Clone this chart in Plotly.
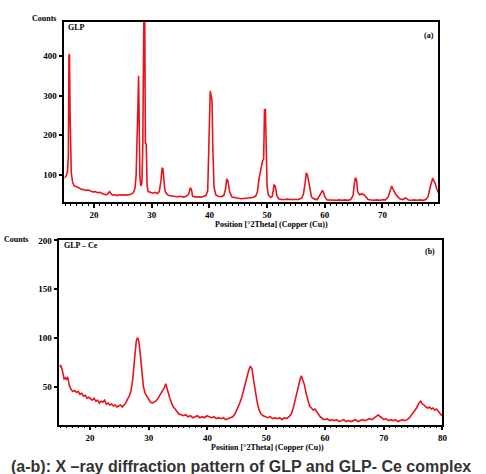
import plotly.graph_objects as go

# ---------------- data: GLP (panel a) ----------------
glp_x = [14.85, 15.0, 15.2, 15.4, 15.55, 15.65, 15.75, 15.85, 15.95, 16.05,
         16.3, 16.6, 17.0, 17.4, 17.8, 18.2, 18.6, 19.0, 19.4, 19.8,
         20.2, 20.6, 21.0, 21.4, 21.8, 22.2, 22.5, 22.7, 22.9, 23.2,
         23.6, 24.0, 24.4, 24.8, 25.2, 25.6, 26.0, 26.4, 26.8, 27.1,
         27.3, 27.45, 27.6, 27.72, 27.85, 27.95, 28.1, 28.3, 28.45, 28.55,
         28.65, 28.78, 28.9, 29.05, 29.2, 29.4, 29.8, 30.2, 30.6, 31.0,
         31.3, 31.6, 31.8, 31.95, 32.1, 32.3, 32.6, 33.0, 33.5, 34.0,
         34.5, 35.0, 35.5, 36.0, 36.4, 36.7, 36.9, 37.1, 37.4, 37.8,
         38.2, 38.6, 39.0, 39.4, 39.7, 39.85, 40.0, 40.15, 40.3, 40.45,
         40.6, 40.8, 41.1, 41.5, 42.0, 42.5, 42.8, 43.0, 43.2, 43.5,
         43.9, 44.4, 45.0, 45.5, 46.0, 46.5, 47.0, 47.5, 48.0, 48.3,
         48.6, 48.9, 49.2, 49.4, 49.55, 49.7, 49.85, 50.0, 50.2, 50.6,
         50.9, 51.2, 51.4, 51.7, 52.0, 52.5, 53.0, 53.5, 54.0, 54.5,
         55.0, 55.5, 56.0, 56.3, 56.6, 56.8, 57.0, 57.3, 57.7, 58.2,
         58.7, 59.1, 59.4, 59.6, 59.8, 60.0, 60.4, 61.0, 61.5, 62.0,
         62.5, 63.0, 63.5, 64.0, 64.5, 64.9, 65.1, 65.3, 65.5, 65.7,
         66.0, 66.4, 66.8, 67.1, 67.5, 68.0, 68.5, 69.0, 69.5, 70.0,
         70.5, 71.0, 71.3, 71.6, 71.9, 72.2, 72.6, 73.0, 73.5, 74.0,
         74.5, 75.0, 75.5, 76.0, 76.5, 77.0, 77.5, 77.9, 78.2, 78.5,
         78.7, 78.9, 79.1, 79.4, 79.7]
glp_y = [92, 95, 98, 108, 150, 400, 405, 250, 110, 106,
         80, 72, 70, 66, 64, 63, 61, 62, 60, 57,
         58, 55, 56, 53, 51, 50, 54, 58, 53, 49,
         50, 48, 50, 49, 50, 49, 50, 51, 55, 66,
         100, 165, 270, 350, 160, 95, 72, 80, 175, 490,
         530, 520, 180, 178, 72, 58, 55, 54, 56, 53,
         58, 85, 118, 115, 88, 60, 52, 48, 47, 46,
         45, 46, 44, 46, 52, 68, 62, 46, 45, 44,
         45, 44, 46, 48, 60, 168, 270, 312, 300, 288,
         165, 70, 50, 46, 45, 48, 65, 90, 85, 58,
         44, 42, 41, 40, 41, 42, 42, 43, 46, 56,
         90, 118, 135, 140, 265, 265, 105, 70, 50, 43,
         46, 74, 72, 48, 40, 38, 38, 39, 38, 38,
         39, 38, 42, 52, 80, 105, 100, 72, 44, 39,
         38, 48, 55, 61, 55, 45, 37, 36, 37, 36,
         37, 36, 37, 36, 38, 48, 75, 93, 88, 58,
         50, 52, 50, 44, 38, 37, 36, 37, 36, 37,
         37, 45, 62, 72, 62, 53, 46, 40, 38, 42,
         37, 36, 37, 36, 37, 36, 38, 45, 65, 82,
         92, 85, 80, 65, 55]

# ---------------- data: GLP-Ce (panel b) ----------------
ce_x = [14.85, 15.0, 15.25, 15.45, 15.6, 15.8, 16.0, 16.2, 16.35, 16.5,
        16.8, 17.1, 17.4, 17.7, 18.0, 18.3, 18.6, 18.9, 19.2, 19.5,
        19.8, 20.1, 20.4, 20.7, 21.0, 21.3, 21.6, 21.9, 22.2, 22.5,
        22.8, 23.1, 23.4, 23.7, 24.0, 24.3, 24.6, 24.9, 25.2, 25.5,
        25.8, 26.1, 26.4, 26.7, 27.0, 27.3, 27.5, 27.7, 27.9, 28.1,
        28.3, 28.5, 28.7, 28.9, 29.1, 29.4, 29.7, 30.0, 30.3, 30.6,
        30.9, 31.2, 31.5, 31.8, 32.1, 32.4, 32.7, 32.9, 33.1, 33.3,
        33.6, 33.9, 34.2, 34.5, 34.8, 35.1, 35.5, 35.9, 36.3, 36.7,
        37.1, 37.5, 37.9, 38.3, 38.7, 39.1, 39.5, 39.9, 40.3, 40.7,
        41.1, 41.5, 41.9, 42.3, 42.7, 43.1, 43.5, 43.9, 44.3, 44.7,
        45.1, 45.5, 45.9, 46.3, 46.7, 47.0, 47.3, 47.6, 47.9, 48.2,
        48.5, 48.8, 49.1, 49.5, 49.9, 50.3, 50.7, 51.1, 51.5, 51.9,
        52.3, 52.7, 53.1, 53.5, 53.9, 54.3, 54.7, 55.1, 55.5, 55.8,
        56.0, 56.2, 56.5, 56.8, 57.1, 57.4, 57.7, 58.0, 58.3, 58.6,
        58.9, 59.2, 59.6, 60.0, 60.4, 60.8, 61.2, 61.6, 62.0, 62.4,
        62.8, 63.2, 63.6, 64.0, 64.4, 64.8, 65.2, 65.6, 66.0, 66.4,
        66.8, 67.2, 67.6, 68.0, 68.4, 68.8, 69.1, 69.4, 69.7, 70.0,
        70.4, 70.8, 71.2, 71.6, 72.0, 72.4, 72.8, 73.2, 73.6, 74.0,
        74.4, 74.8, 75.2, 75.6, 76.0, 76.3, 76.6, 76.9, 77.2, 77.5,
        77.8, 78.1, 78.4, 78.7, 79.0, 79.3, 79.6, 79.9]
ce_y = [70, 72, 68, 60, 58, 59, 57, 60, 55, 51,
        47, 45, 46, 44, 45, 42, 43, 40, 41, 38,
        39, 37, 36, 38, 35, 36, 33, 35, 34, 36,
        32, 33, 31, 32, 30, 31, 29, 30, 31, 29,
        31, 33, 37, 40, 46, 58, 72, 88, 97, 100,
        97, 88, 75, 62, 50, 43, 40, 36, 34, 33,
        34, 35, 37, 40, 43, 46, 49, 53, 48, 44,
        38, 33, 29, 27, 24, 22, 21, 20, 21, 19,
        20, 18, 19, 20, 18, 19, 18, 20, 19, 18,
        19, 17, 18, 17, 18, 16, 17, 18, 19, 22,
        27, 33, 40, 50, 60, 66, 71, 68, 55, 42,
        33, 26, 22, 20, 19, 18, 19, 17, 18, 17,
        18, 16, 18, 17, 19, 22, 30, 40, 52, 58,
        61, 58, 52, 43, 36, 30, 28, 26, 27, 24,
        21, 19, 17, 16, 17, 15, 16, 15, 16, 14,
        15, 16, 14, 15, 14, 15, 16, 14, 15, 16,
        15, 16, 17, 16, 18, 20, 21, 19, 18, 16,
        17, 15, 16, 15, 16, 14, 15, 16, 15, 16,
        18, 21, 24, 28, 33, 35, 32, 31, 29, 28,
        29, 27, 28, 26, 27, 25, 22, 20]

if len(glp_x) != len(glp_y) or len(ce_x) != len(ce_y):
    raise ValueError(f"length mismatch {len(glp_x)} {len(glp_y)} {len(ce_x)} {len(ce_y)}")

a_yticks = [100, 200, 300, 400]
b_yticks = [50, 100, 150, 200]
xticks = [20, 30, 40, 50, 60, 70, 80]

W, H = 486, 474
RED = "#e8141b"
SERIF = "Liberation Serif"

def px(x):
    return x / W

def py(y):
    return 1 - y / H

fig = go.Figure()
fig.add_trace(go.Scatter(x=glp_x, y=glp_y, mode="lines",
                         line=dict(color=RED, width=1.6), xaxis="x", yaxis="y",
                         showlegend=False))
fig.add_trace(go.Scatter(x=ce_x, y=ce_y, mode="lines",
                         line=dict(color=RED, width=1.6), xaxis="x2", yaxis="y2",
                         showlegend=False))

tickfont = dict(family=SERIF, size=9, color="black", weight="bold")
common_x = dict(showline=True, linecolor="black", linewidth=1.5, mirror=True,
                ticks="outside", ticklen=4, tickwidth=1.5, tickcolor="black",
                showgrid=False, zeroline=False, tickvals=xticks, tickfont=tickfont,
                minor=dict(dtick=1, ticks="outside", ticklen=2, tickwidth=1,
                           tickcolor="black", showgrid=False))
common_y = dict(showline=True, linecolor="black", linewidth=1.5, mirror=True,
                ticks="outside", ticklen=4, tickwidth=1.5, tickcolor="black",
                showgrid=False, zeroline=False, tickfont=tickfont)

fig.update_layout(
    width=W, height=H,
    margin=dict(l=0, r=0, t=0, b=0),
    paper_bgcolor="white", plot_bgcolor="white",
    xaxis=dict(domain=[px(65), px(443)], range=[14.85, 79.7], anchor="y", **common_x),
    yaxis=dict(domain=[py(199), py(17)], range=[32, 486], anchor="x",
               tickvals=a_yticks, **common_y),
    xaxis2=dict(domain=[px(60), px(447)], range=[14.8, 80], anchor="y2", **common_x),
    yaxis2=dict(domain=[py(424), py(238)], range=[11, 200], anchor="x2",
                tickvals=b_yticks, **common_y),
)

lab = dict(family=SERIF, size=8, color="black", weight="bold")
annots = [
    dict(text="Counts", x=px(30), y=py(14), xanchor="left", font=lab),
    dict(text="GLP", x=px(67), y=py(23), xanchor="left", font=lab),
    dict(text="(a)", x=px(441), y=py(31), xanchor="right", font=lab),
    dict(text="Position [°2Theta] (Copper (Cu))", x=px(274), y=py(222), xanchor="center", font=lab),
    dict(text="Counts", x=px(2), y=py(237), xanchor="left", font=lab),
    dict(text="GLP – Ce", x=px(63), y=py(243), xanchor="left", font=lab),
    dict(text="(b)", x=px(442), y=py(249), xanchor="right", font=lab),
    dict(text="Position [°2Theta] (Copper (Cu))", x=px(270), y=py(447), xanchor="center", font=lab),
    dict(text="(a-b): X –ray diffraction pattern of GLP and GLP- Ce complex",
         x=px(243), y=py(466), xanchor="center",
         font=dict(family="Liberation Sans", size=16, color="#333333", weight="bold")),
]
for a in annots:
    fig.add_annotation(xref="paper", yref="paper", showarrow=False, yanchor="middle", **a)

fig.write_html("out.html")
